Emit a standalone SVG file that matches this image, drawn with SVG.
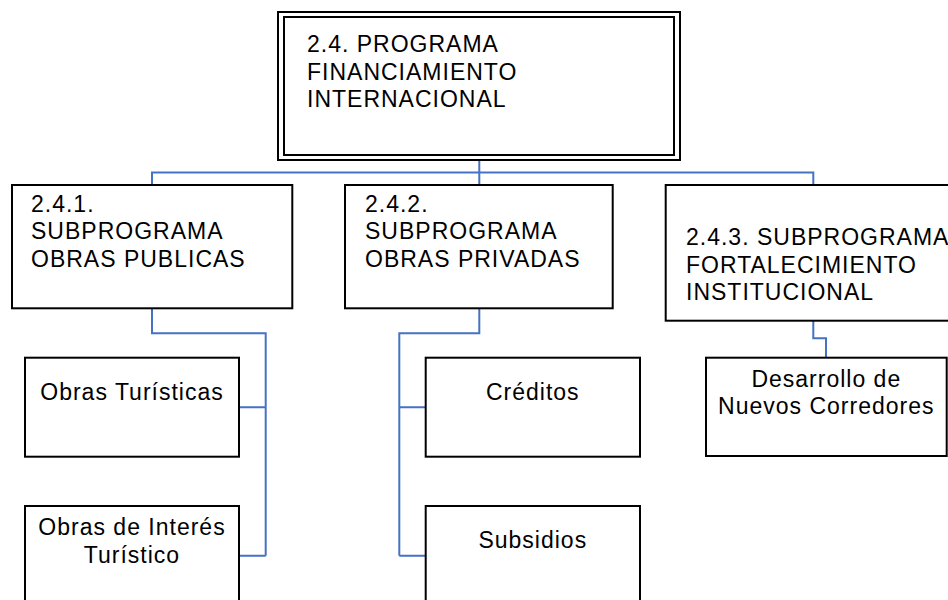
<svg xmlns="http://www.w3.org/2000/svg" width="948" height="600" viewBox="0 0 948 600">
<style>
.box{fill:#fff;stroke:#000;stroke-width:2}
.t{font-family:"Liberation Sans",Arial,sans-serif;font-size:23px;fill:#000;letter-spacing:1px}
.c{text-anchor:middle}
.conn{fill:none;stroke:#4472C4;stroke-width:2}
</style>
<rect width="948" height="600" fill="#fff"/>
<g id="connectors">
<path class="conn" d="M479.3,160 V185 M152,185 V172.5 H813.3 V185"/>
<path class="conn" d="M152,308.3 V333.3 H265.7 V555.7 M239,407.3 H265.7 M239,555.7 H265.7"/>
<path class="conn" d="M479.3,308.3 V333.3 H399.3 V555.7 M399.3,407.3 H425.7 M399.3,555.7 H425.7"/>
<path class="conn" d="M813.3,320.7 V338.3 H826 V357.7"/>
</g>
<g id="n-root">
<rect class="box" x="278" y="12" width="402" height="148"/>
<rect class="box" x="284" y="17" width="390" height="138"/>
<text class="t" x="307" y="52">2.4. PROGRAMA</text>
<text class="t" x="307" y="79.5">FINANCIAMIENTO</text>
<text class="t" x="307" y="107">INTERNACIONAL</text>
</g>
<g id="n-241">
<rect class="box" x="12" y="185" width="280.3" height="123.3"/>
<text class="t" x="31" y="211.7">2.4.1.</text>
<text class="t" x="31" y="239.3">SUBPROGRAMA</text>
<text class="t" x="31" y="267.3">OBRAS PUBLICAS</text>
</g>
<g id="n-242">
<rect class="box" x="345" y="185" width="267.7" height="123.3"/>
<text class="t" x="365" y="211.7">2.4.2.</text>
<text class="t" x="365" y="239.3">SUBPROGRAMA</text>
<text class="t" x="365" y="267.3">OBRAS PRIVADAS</text>
</g>
<g id="n-243">
<rect class="box" x="665.7" y="185" width="300" height="135.7"/>
<text class="t" x="686" y="245">2.4.3. SUBPROGRAMA</text>
<text class="t" x="686" y="272.7">FORTALECIMIENTO</text>
<text class="t" x="686" y="300">INSTITUCIONAL</text>
</g>
<g id="n-obras-turisticas">
<rect class="box" x="25" y="357.7" width="214" height="99"/>
<text class="t c" x="132" y="400">Obras Turísticas</text>
</g>
<g id="n-obras-interes">
<rect class="box" x="25" y="506" width="214" height="110"/>
<text class="t c" x="132" y="535">Obras de Interés</text>
<text class="t c" x="132" y="562.7">Turístico</text>
</g>
<g id="n-creditos">
<rect class="box" x="425.7" y="357.7" width="214.3" height="99"/>
<text class="t c" x="532.8" y="400">Créditos</text>
</g>
<g id="n-subsidios">
<rect class="box" x="425.7" y="506" width="214.3" height="110"/>
<text class="t c" x="532.8" y="548.3">Subsidios</text>
</g>
<g id="n-desarrollo">
<rect class="box" x="706" y="357.7" width="240.7" height="98.3"/>
<text class="t c" x="826.3" y="386.7">Desarrollo de</text>
<text class="t c" x="826.3" y="414.3">Nuevos Corredores</text>
</g>
</svg>
